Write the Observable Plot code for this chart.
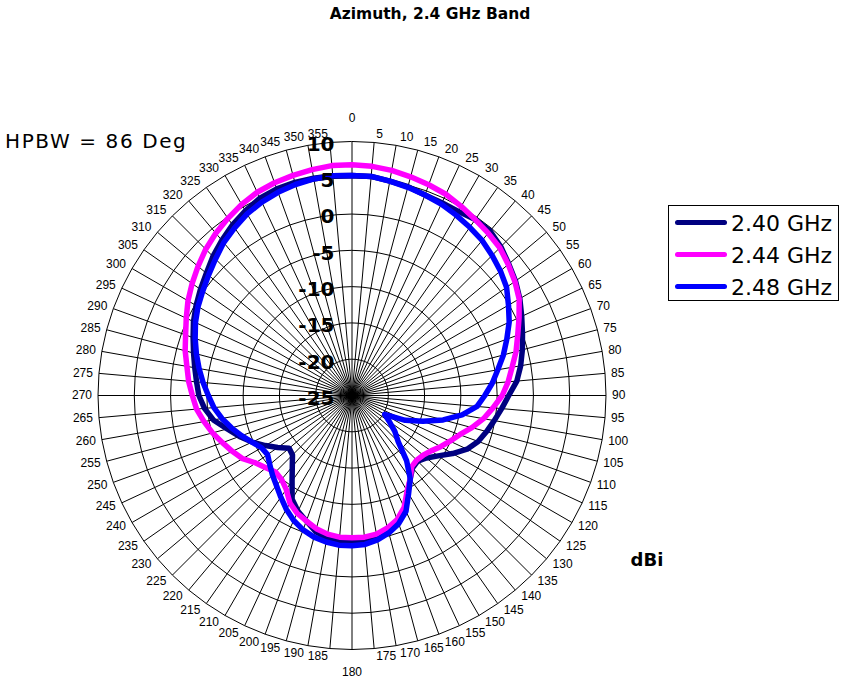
<!DOCTYPE html>
<html>
<head>
<meta charset="utf-8">
<script src="https://cdn.jsdelivr.net/npm/d3@7"></script>
<script src="https://cdn.jsdelivr.net/npm/@observablehq/plot@0.6"></script>
<style>
  body { margin: 0; background: #fff; }
  #wrap { position: relative; width: 843px; height: 681px; overflow: hidden; background: #fff; }
  .t { position: absolute; white-space: nowrap; color: #000; }
  #legend { position: absolute; left: 668px; top: 205px; width: 171px; height: 96px; border: 1px solid #000; box-sizing: border-box; background: #fff; }
  .sw { position: absolute; left: 6px; width: 52px; height: 5px; border-radius: 3px; }
  .lt { position: absolute; left: 62px; font: 22px "DejaVu Sans"; transform: translateY(-50%); white-space: nowrap; }
</style>
</head>
<body>
<div id="wrap"></div>
<script>
// ---- data ----
const angles = [0,5,10,15,20,25,30,35,40,45,50,55,60,65,70,75,80,85,
  90,95,100,105,110,115,120,125,130,135,140,145,150,155,160,165,170,175,
  180,185,190,195,200,205,210,215,220,225,230,235,240,245,250,255,260,265,
  270,275,280,285,290,295,300,305,310,315,320,325,330,335,340,345,350,355];
const angleLabels = angles.map(String);
const radialTicks = [-25, -20, -15, -10, -5, 0, 5, 10];
const ringValues = [-20, -15, -10, -5, 0, 5, 10];
const seriesNames = ["2.40 GHz", "2.44 GHz", "2.48 GHz"];
const seriesColors = ["#000080", "#FF00FF", "#0000FF"];

const gain240 = [5.3,5.3,5.0,4.8,4.4,4.3,4.3,4.6,4.6,4.0,3.2,2.5,1.7,0.8,0.0,-0.7,-1.4,-2.2,
  -3.4,-4.3,-5.1,-5.8,-6.5,-7.5,-9.0,-10.5,-11.6,-12.2,-12.0,-11.0,-9.6,-7.7,-6.5,-5.8,-5.3,-5.0,
  -4.9,-4.9,-5.1,-5.6,-6.6,-7.4,-8.5,-10.6,-12.2,-13.4,-13.7,-12.5,-11.2,-9.8,-8.5,-7.2,-5.6,-4.6,
  -3.9,-3.5,-3.0,-2.4,-1.7,-0.9,-0.2,0.5,1.2,2.1,2.9,3.7,4.4,5.0,5.3,5.4,5.4,5.4];
const gain244 = [6.8,6.7,6.5,6.2,5.9,5.6,5.1,4.6,4.2,3.8,3.1,2.4,1.6,0.4,-0.7,-1.6,-2.6,-3.4,
  -4.3,-5.5,-6.6,-7.9,-9.2,-10.1,-10.9,-11.7,-12.2,-12.4,-12.2,-11.0,-9.8,-8.0,-6.8,-6.1,-5.6,-5.4,
  -5.4,-5.4,-5.6,-6.0,-6.6,-7.1,-7.9,-9.2,-9.9,-10.1,-9.5,-8.8,-7.6,-6.8,-6.0,-5.1,-4.3,-3.5,
  -3.0,-2.4,-1.9,-1.2,-0.6,0.2,1.1,1.9,2.7,3.5,4.2,4.8,5.4,5.9,6.2,6.4,6.6,6.8];
const gain248 = [5.3,5.3,5.0,4.7,4.4,4.1,3.7,3.3,2.9,2.3,1.7,1.0,-0.1,-1.1,-2.3,-3.4,-4.6,-5.6,
  -6.7,-7.7,-9.6,-12.0,-14.6,-16.9,-19.8,-18.7,-17.3,-16.0,-13.3,-11.0,-9.4,-7.4,-6.2,-5.4,-4.8,-4.4,
  -4.3,-4.3,-4.5,-4.8,-5.3,-6.0,-6.9,-7.9,-8.8,-9.5,-10.2,-10.8,-10.6,-9.8,-8.8,-7.8,-6.8,-5.9,
  -5.2,-4.4,-3.6,-2.8,-2.0,-1.2,-0.5,0.1,0.8,1.6,2.5,3.2,3.9,4.4,4.8,5.1,5.3,5.4];
const seriesValues = [gain240, gain244, gain248];

// ---- layout ----
const W = 843, H = 681;
const cx = 351.5, cy = 395;          // centre of the polar grid (px)
const rMin = -25, rMax = 10;
const k = 254 / (rMax - rMin);       // px per dB
const rad = a => a * Math.PI / 180;
const px = (v, a) => (v - rMin) * Math.sin(rad(a));
const py = (v, a) => (v - rMin) * Math.cos(rad(a));

const ringRows = ringValues.flatMap(v => angles.map(a => ({ring: v, angle: a})));
const seriesRows = seriesNames.map((name, s) =>
  angles.map((a, i) => ({series: name, angle: a, gain: seriesValues[s][i]})));

const labelRows = angles.map((a, i) => ({angle: a, label: angleLabels[i]}));
const gapX = a => 6 * Math.min(1, Math.abs(Math.sin(rad(a))) / 0.26) / k;
const rightLabels = labelRows.filter(d => d.angle > 0 && d.angle < 180);
const leftLabels = labelRows.filter(d => d.angle > 180);
const poleLabels = labelRows.filter(d => d.angle === 0 || d.angle === 180);

const lblFont = {fontFamily: "'Liberation Sans', Arial, sans-serif", fontSize: 12, fill: "#000"};

const plot = Plot.plot({
  width: W, height: H, margin: 0,
  style: {background: "#fff"},
  x: {type: "linear", domain: [-cx / k, (W - cx) / k], range: [0, W], axis: null},
  y: {type: "linear", domain: [-(H - cy) / k, cy / k], range: [H, 0], axis: null},
  marks: [
    Plot.line(ringRows, {x: d => px(d.ring, d.angle), y: d => py(d.ring, d.angle), z: "ring",
      curve: "linear-closed", stroke: "#000", strokeWidth: 1}),
    Plot.link(angles, {x1: () => 0, y1: () => 0, x2: a => px(rMax, a), y2: a => py(rMax, a),
      stroke: "#000", strokeWidth: 1}),
    ...seriesRows.map((rows, s) => Plot.line(rows, {
      x: d => px(d.gain, d.angle), y: d => py(d.gain, d.angle),
      curve: "linear-closed", stroke: seriesColors[s], strokeWidth: 5.5,
      strokeLinejoin: "round"})),
    Plot.text(radialTicks, {x: () => -17.5 / k, y: v => v - rMin - 3 / k, text: v => String(v),
      textAnchor: "end", fontSize: 20, fontWeight: "bold",
      fontFamily: "'DejaVu Sans', Verdana, sans-serif", fill: "#000"}),
    Plot.text(rightLabels, {x: d => px(rMax, d.angle) + gapX(d.angle),
      y: d => py(rMax, d.angle) + 8 * Math.cos(rad(d.angle)) / k,
      text: "label", textAnchor: "start", ...lblFont}),
    Plot.text(leftLabels, {x: d => px(rMax, d.angle) - gapX(d.angle),
      y: d => py(rMax, d.angle) + 8 * Math.cos(rad(d.angle)) / k,
      text: "label", textAnchor: "end", ...lblFont}),
    Plot.text(poleLabels, {x: d => px(rMax, d.angle),
      y: d => py(rMax, d.angle) + 23 * Math.cos(rad(d.angle)) / k,
      text: "label", textAnchor: "middle", ...lblFont})
  ]
});

const wrap = document.getElementById("wrap");
wrap.appendChild(plot);

function addText(txt, left, top, font, anchor, spacing) {
  const el = document.createElement("div");
  el.className = "t";
  el.textContent = txt;
  el.style.left = left + "px";
  el.style.top = top + "px";
  el.style.font = font;
  if (spacing) el.style.letterSpacing = spacing;
  el.style.transform = anchor === "center" ? "translate(-50%,-50%)" : "translate(0,-50%)";
  wrap.appendChild(el);
}
addText("Azimuth, 2.4 GHz Band", 430, 14, "bold 15.5px 'DejaVu Sans'", "center");
addText("HPBW = 86 Deg", 5, 141, "20px 'DejaVu Sans'", "left", "1.6px");
addText("dBi", 647, 559, "bold 18px 'DejaVu Sans'", "center");

const legend = document.createElement("div");
legend.id = "legend";
const rowY = [16.5, 48.5, 80.5];
seriesNames.forEach((name, i) => {
  const sw = document.createElement("div");
  sw.className = "sw";
  sw.style.top = (rowY[i] - 2.5) + "px";
  sw.style.background = seriesColors[i];
  legend.appendChild(sw);
  const lt = document.createElement("div");
  lt.className = "lt";
  lt.style.top = rowY[i] + "px";
  lt.textContent = name;
  legend.appendChild(lt);
});
wrap.appendChild(legend);
</script>
</body>
</html>
